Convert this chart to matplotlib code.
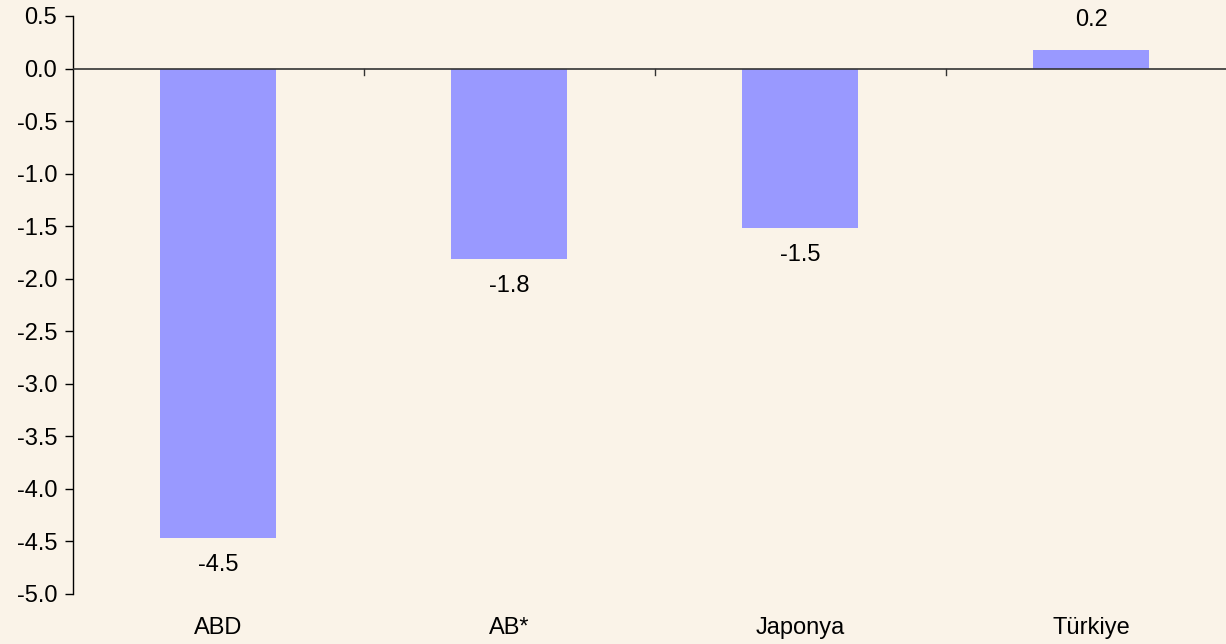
import numpy as np
import matplotlib.pyplot as plt

categories = ['ABD', 'AB*', 'Japonya', 'Türkiye']
values = [-4.47, -1.81, -1.52, 0.18]
labels = ['-4.5', '-1.8', '-1.5', '0.2']

bg = '#FAF3E8'
plt.rcParams['font.family'] = ['Liberation Sans', 'DejaVu Sans']
fs = 17

fig = plt.figure(figsize=(12.26, 6.44), dpi=100, facecolor=bg)
# axes right edge runs slightly past the figure, like the original
ax = fig.add_axes([72.5 / 1226, 50 / 644, 1164 / 1226, 578 / 644])
ax.set_facecolor(bg)

x = np.arange(len(categories))
ax.bar(x, values, width=0.4, color='#9999FF', zorder=2)

ax.set_xlim(-0.5, len(categories) - 0.5)
ax.set_ylim(-5.0, 0.5)
ax.set_yticks(np.arange(-5.0, 0.51, 0.5))
ax.set_yticklabels([f'{v:.1f}' for v in np.arange(-5.0, 0.51, 0.5)])
ax.tick_params(axis='y', direction='out', length=6, width=1, labelsize=fs, pad=5)

# category boundaries as ticks on the zero line
ax.spines['top'].set_visible(False)
ax.spines['right'].set_visible(False)
ax.spines['bottom'].set_visible(False)
ax.spines['left'].set_linewidth(1)
ax.axhline(0, color='#333333', lw=1.2, zorder=3)
for b in x[:-1] + 0.5:
    ax.plot([b, b], [0, -0.06], color='#333333', lw=1, clip_on=False, zorder=3)
ax.set_xticks([])
for xi, c in zip(x, categories):
    ax.text(xi, -5.32, c, ha='center', va='center', fontsize=fs)

for xi, v, lab in zip(x, values, labels):
    if v < 0:
        ax.text(xi, v - 0.15, lab, ha='center', va='top', fontsize=fs)
    else:
        ax.text(xi, v + 0.18, lab, ha='center', va='bottom', fontsize=fs)

fig.savefig('out.png', dpi=100, facecolor=bg)
